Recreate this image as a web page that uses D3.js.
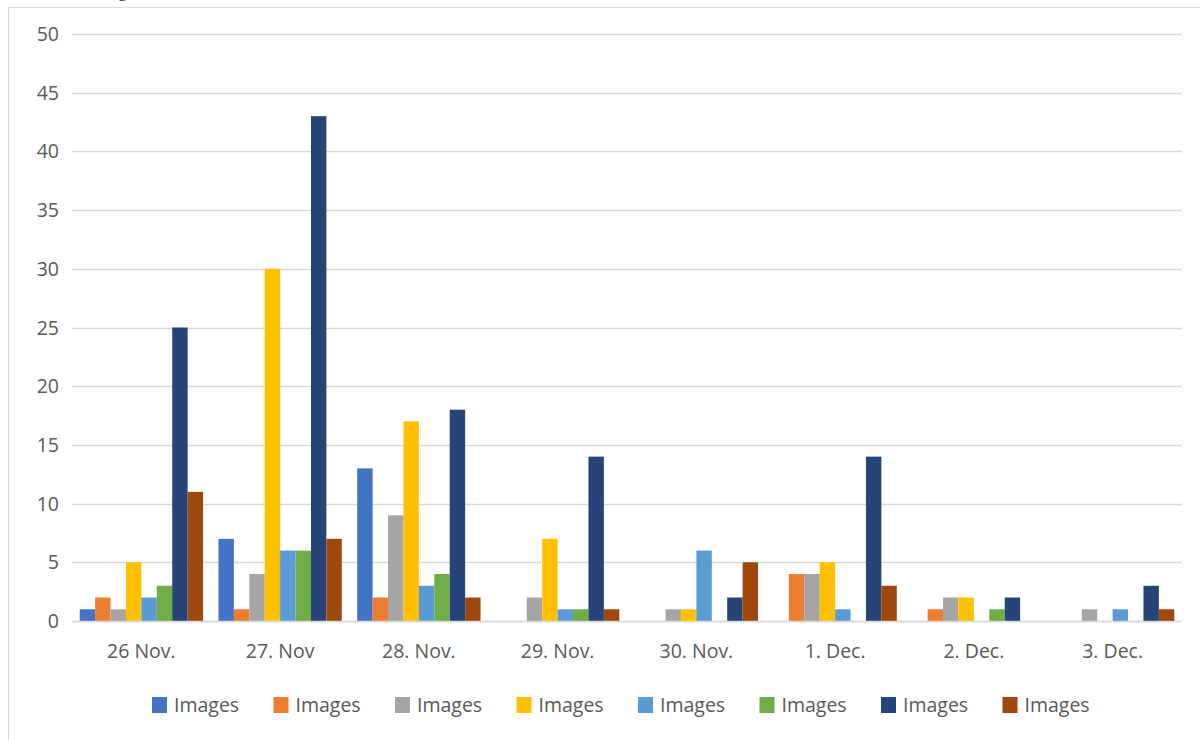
<!DOCTYPE html>
<html><head><meta charset="utf-8">
<script src="https://cdn.jsdelivr.net/npm/d3@7"></script>
<style>html,body{margin:0;padding:0;background:#fff;}svg{display:block;}</style>
</head><body>
<svg id="c" width="1200" height="740"></svg>
<script>
const categories = ["26 Nov.", "27. Nov", "28. Nov.", "29. Nov.", "30. Nov.", "1. Dec.", "2. Dec.", "3. Dec."];
const seriesNames = ["Images", "Images", "Images", "Images", "Images", "Images", "Images", "Images"];
const seriesColors = ["#4472C4", "#ED7D31", "#A5A5A5", "#FFC000", "#5B9BD5", "#70AD47", "#264478", "#9E480E"];
const s1 = [1, 7, 13, 0, 0, 0, 0, 0];
const s2 = [2, 1, 2, 0, 0, 4, 1, 0];
const s3 = [1, 4, 9, 2, 1, 4, 2, 1];
const s4 = [5, 30, 17, 7, 1, 5, 2, 0];
const s5 = [2, 6, 3, 1, 6, 1, 0, 1];
const s6 = [3, 6, 4, 1, 0, 0, 1, 0];
const s7 = [25, 43, 18, 14, 2, 14, 2, 3];
const s8 = [11, 7, 2, 1, 5, 3, 0, 1];
const seriesValues = [s1, s2, s3, s4, s5, s6, s7, s8];
const yTicks = [0, 5, 10, 15, 20, 25, 30, 35, 40, 45, 50];

const svg = d3.select("#c");
const font = "'Open Sans', sans-serif";
const fs = 19.5;
const L = 72, R = 1182, T = 34, B = 621;

// chart frame
svg.append("rect").attr("x", 8.5).attr("y", 7.5).attr("width", 1300).attr("height", 800)
  .attr("fill", "#fff").attr("stroke", "#d9d9d9").attr("stroke-width", 1);

// cut-off title descender
svg.append("text").attr("x", 118).attr("y", -3).attr("font-family", "'Liberation Serif', serif")
  .attr("font-size", 18).attr("fill", "#333").text("g");

const y = d3.scaleLinear().domain([0, 50]).range([B, T]);
const x0 = d3.scaleBand().domain(categories).range([L, R]).padding(0);
const bw = x0.bandwidth();
const x1 = d3.scaleBand().domain(d3.range(8)).range([bw / 18, bw - bw / 18]).padding(0);

// gridlines
svg.append("g").selectAll("line").data(yTicks).join("line")
  .attr("x1", L).attr("x2", R)
  .attr("y1", d => Math.round(y(d)) + 0.5).attr("y2", d => Math.round(y(d)) + 0.5)
  .attr("stroke", "#d9d9d9").attr("stroke-width", 1.5);

// y tick labels
svg.append("g").selectAll("text").data(yTicks).join("text")
  .attr("x", 59).attr("y", d => y(d)).attr("dy", "0.36em")
  .attr("text-anchor", "end").attr("font-family", font).attr("font-size", fs)
  .attr("fill", "#595959").text(d => d);

// bars
const groups = svg.append("g").selectAll("g").data(categories).join("g")
  .attr("transform", d => `translate(${x0(d)},0)`);
groups.selectAll("rect").data((c, ci) => seriesValues.map((s, si) => ({si, v: s[ci]})))
  .join("rect")
  .attr("x", d => x1(d.si)).attr("width", x1.bandwidth())
  .attr("y", d => y(d.v)).attr("height", d => y(0) - y(d.v))
  .attr("fill", d => seriesColors[d.si]);

// baseline
svg.append("line").attr("x1", L).attr("x2", R).attr("y1", B + 0.5).attr("y2", B + 0.5)
  .attr("stroke", "#d9d9d9").attr("stroke-width", 1.5);

// x labels
svg.append("g").selectAll("text").data(categories).join("text")
  .attr("x", d => x0(d) + bw / 2).attr("y", 658)
  .attr("text-anchor", "middle").attr("font-family", font).attr("font-size", fs)
  .attr("fill", "#595959").text(d => d);

// legend
const leg = svg.append("g").selectAll("g").data(seriesNames).join("g")
  .attr("transform", (d, i) => `translate(${152 + i * 121.5},697)`);
leg.append("rect").attr("width", 15).attr("height", 16).attr("fill", (d, i) => seriesColors[i]);
leg.append("text").attr("x", 22).attr("y", 15).attr("font-family", font).attr("font-size", fs)
  .attr("fill", "#595959").text(d => d);
</script>
</body></html>
